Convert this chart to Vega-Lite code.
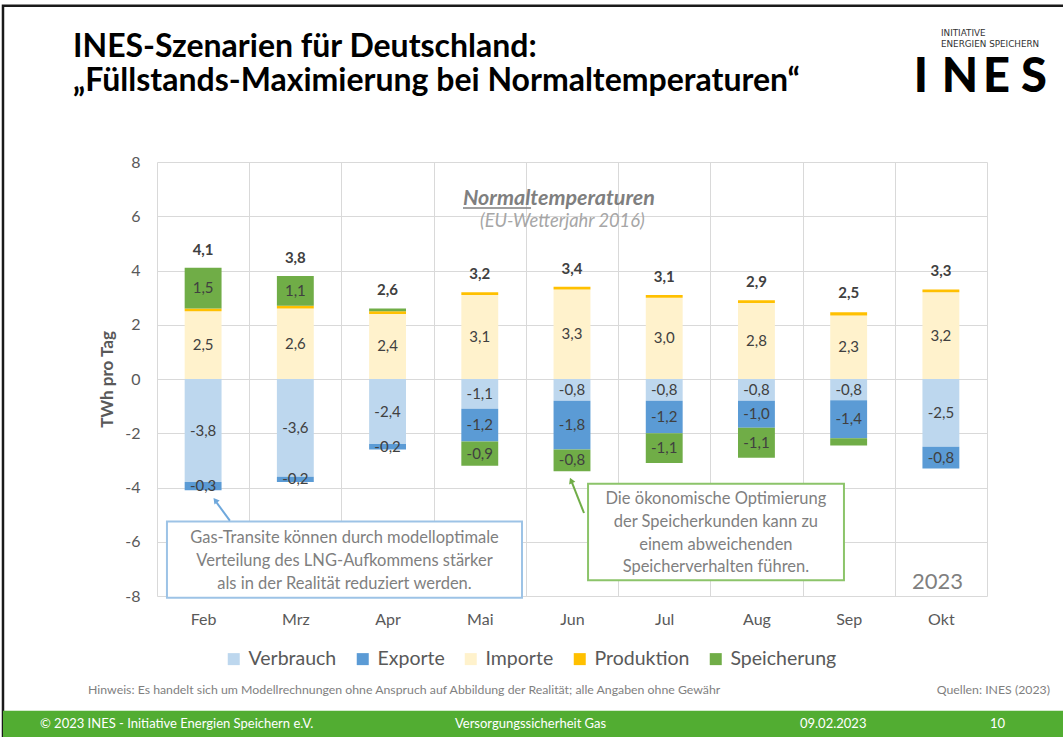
{
  "$schema": "https://vega.github.io/schema/vega-lite/v6.json",
  "width": 830,
  "height": 434,
  "autosize": {"type": "none"},
  "padding": {"left": 157, "top": 162, "right": 76, "bottom": 141},
  "background": "white",
  "config": {
    "locale": {"number": {"decimal": ",", "thousands": ".", "grouping": [3], "currency": ["", " €"], "minus": "-"}},
    "view": {"stroke": null},
    "font": "Lato"
  },
  "datasets": {
    "flows": [
      {"month": "Feb", "cat": "Verbrauch", "v": -3.8},
      {"month": "Feb", "cat": "Exporte", "v": -0.3},
      {"month": "Feb", "cat": "Importe", "v": 2.5},
      {"month": "Feb", "cat": "Produktion", "v": 0.1},
      {"month": "Feb", "cat": "Speicherung", "v": 1.5},
      {"month": "Mrz", "cat": "Verbrauch", "v": -3.6},
      {"month": "Mrz", "cat": "Exporte", "v": -0.2},
      {"month": "Mrz", "cat": "Importe", "v": 2.6},
      {"month": "Mrz", "cat": "Produktion", "v": 0.1},
      {"month": "Mrz", "cat": "Speicherung", "v": 1.1},
      {"month": "Apr", "cat": "Verbrauch", "v": -2.4},
      {"month": "Apr", "cat": "Exporte", "v": -0.2},
      {"month": "Apr", "cat": "Importe", "v": 2.4},
      {"month": "Apr", "cat": "Produktion", "v": 0.1},
      {"month": "Apr", "cat": "Speicherung", "v": 0.1},
      {"month": "Mai", "cat": "Verbrauch", "v": -1.1},
      {"month": "Mai", "cat": "Exporte", "v": -1.2},
      {"month": "Mai", "cat": "Importe", "v": 3.1},
      {"month": "Mai", "cat": "Produktion", "v": 0.1},
      {"month": "Mai", "cat": "Speicherung", "v": -0.9},
      {"month": "Jun", "cat": "Verbrauch", "v": -0.8},
      {"month": "Jun", "cat": "Exporte", "v": -1.8},
      {"month": "Jun", "cat": "Importe", "v": 3.3},
      {"month": "Jun", "cat": "Produktion", "v": 0.1},
      {"month": "Jun", "cat": "Speicherung", "v": -0.8},
      {"month": "Jul", "cat": "Verbrauch", "v": -0.8},
      {"month": "Jul", "cat": "Exporte", "v": -1.2},
      {"month": "Jul", "cat": "Importe", "v": 3.0},
      {"month": "Jul", "cat": "Produktion", "v": 0.1},
      {"month": "Jul", "cat": "Speicherung", "v": -1.1},
      {"month": "Aug", "cat": "Verbrauch", "v": -0.8},
      {"month": "Aug", "cat": "Exporte", "v": -1.0},
      {"month": "Aug", "cat": "Importe", "v": 2.8},
      {"month": "Aug", "cat": "Produktion", "v": 0.1},
      {"month": "Aug", "cat": "Speicherung", "v": -1.1},
      {"month": "Sep", "cat": "Verbrauch", "v": -0.78},
      {"month": "Sep", "cat": "Exporte", "v": -1.4},
      {"month": "Sep", "cat": "Importe", "v": 2.34},
      {"month": "Sep", "cat": "Produktion", "v": 0.12},
      {"month": "Sep", "cat": "Speicherung", "v": -0.27},
      {"month": "Okt", "cat": "Verbrauch", "v": -2.5},
      {"month": "Okt", "cat": "Exporte", "v": -0.8},
      {"month": "Okt", "cat": "Importe", "v": 3.2},
      {"month": "Okt", "cat": "Produktion", "v": 0.1}
    ],
    "totals": [
      {"month": "Feb", "total": 4.1},
      {"month": "Mrz", "total": 3.8},
      {"month": "Apr", "total": 2.6},
      {"month": "Mai", "total": 3.2},
      {"month": "Jun", "total": 3.4},
      {"month": "Jul", "total": 3.1},
      {"month": "Aug", "total": 2.9},
      {"month": "Sep", "total": 2.5},
      {"month": "Okt", "total": 3.3}
    ]
  },
  "resolve": {"scale": {"x": "independent"}},
  "layer": [
    {
      "data": {"values": [{}]},
      "encoding": {
        "x": {"type": "quantitative", "scale": {"domain": [0, 9], "nice": false, "zero": false}, "axis": null}
      },
      "layer": [
        {
          "mark": {"type": "rect", "fill": null, "fillOpacity": 0, "stroke": "#1a1a1a", "strokeWidth": 2.5, "clip": false},
          "encoding": {
            "x": {"datum": -1.67, "type": "quantitative"},
            "x2": {"datum": 9.95},
            "y": {"datum": 13.76, "type": "quantitative"},
            "y2": {"datum": -13.4}
          }
        },
        {
          "mark": {"type": "text", "text": "INES-Szenarien für Deutschland:", "font": "Lato", "fontSize": 32, "fontWeight": "bold", "color": "#000000", "align": "left", "baseline": "alphabetic", "clip": false},
          "encoding": {"x": {"datum": -0.911, "type": "quantitative"}, "y": {"datum": 11.87, "type": "quantitative"}}
        },
        {
          "mark": {"type": "text", "text": "„Füllstands-Maximierung bei Normaltemperaturen“", "font": "Lato", "fontSize": 32, "fontWeight": "bold", "color": "#000000", "align": "left", "baseline": "alphabetic", "clip": false},
          "encoding": {"x": {"datum": -0.911, "type": "quantitative"}, "y": {"datum": 10.6, "type": "quantitative"}}
        }
      ]
    },
    {
      "layer": [
        {
          "data": {"name": "flows"},
          "transform": [
            {"calculate": "indexof(['Verbrauch','Exporte','Importe','Produktion','Speicherung'], datum.cat)", "as": "ord"},
            {"stack": "v", "groupby": ["month"], "sort": [{"field": "ord", "order": "ascending"}], "as": ["y0", "y1"]},
            {"calculate": "(datum.y0 + datum.y1) / 2", "as": "mid"}
          ],
          "layer": [
            {
              "mark": {"type": "bar", "width": {"band": 0.4}},
              "encoding": {
                "x": {
                  "field": "month", "type": "nominal",
                  "sort": ["Feb", "Mrz", "Apr", "Mai", "Jun", "Jul", "Aug", "Sep", "Okt"],
                  "scale": {"paddingInner": 0, "paddingOuter": 0},
                  "axis": {
                    "title": null, "tickBand": "extent", "grid": true, "gridColor": "#D9D9D9", "gridWidth": 1,
                    "ticks": false, "domain": false, "labelAngle": 0, "labelFont": "Lato", "labelFontSize": 16,
                    "labelColor": "#595959", "labelPadding": 15
                  }
                },
                "y": {
                  "field": "y0", "type": "quantitative",
                  "scale": {"domain": [-8, 8], "nice": false, "zero": false},
                  "axis": {
                    "title": "TWh pro Tag", "titleFont": "Lato", "titleFontSize": 17, "titleFontWeight": "bold",
                    "titleColor": "#595959", "titlePadding": 8,
                    "values": [-8, -7, -6, -5, -4, -3, -2, -1, 0, 1, 2, 3, 4, 5, 6, 7, 8],
                    "labelExpr": "datum.value % 2 === 0 ? datum.label : ''",
                    "grid": true, "gridColor": "#D9D9D9", "gridWidth": 1, "ticks": false, "domain": false,
                    "labelFont": "Lato", "labelFontSize": 16, "labelColor": "#595959", "labelPadding": 17
                  }
                },
                "y2": {"field": "y1"},
                "color": {
                  "field": "cat", "type": "nominal",
                  "scale": {
                    "domain": ["Verbrauch", "Exporte", "Importe", "Produktion", "Speicherung"],
                    "range": ["#BDD7EE", "#5B9BD5", "#FFF2CC", "#FFC000", "#70AD47"]
                  },
                  "legend": {
                    "title": null, "orient": "none", "direction": "horizontal", "legendX": 67, "legendY": 487,
                    "padding": 0, "symbolType": "square", "symbolSize": 144, "symbolStrokeWidth": 0,
                    "labelFont": "Lato", "labelFontSize": 19.5, "labelColor": "#595959", "labelOffset": 5,
                    "columnPadding": 16
                  }
                }
              }
            },
            {
              "transform": [
                {"filter": "datum.cat != 'Produktion' && abs(datum.v) >= 0.15 && !(datum.month == 'Sep' && datum.cat == 'Speicherung')"}
              ],
              "mark": {"type": "text", "font": "Lato", "fontSize": 15, "color": "#404040", "baseline": "middle"},
              "encoding": {
                "x": {"field": "month", "type": "nominal", "sort": ["Feb", "Mrz", "Apr", "Mai", "Jun", "Jul", "Aug", "Sep", "Okt"]},
                "y": {"field": "mid", "type": "quantitative"},
                "text": {"field": "v", "type": "quantitative", "format": ".1f"}
              }
            }
          ]
        },
        {
          "data": {"name": "totals"},
          "mark": {"type": "text", "font": "Lato", "fontSize": 15, "fontWeight": "bold", "color": "#404040", "baseline": "alphabetic", "dy": -13},
          "encoding": {
            "x": {"field": "month", "type": "nominal", "sort": ["Feb", "Mrz", "Apr", "Mai", "Jun", "Jul", "Aug", "Sep", "Okt"]},
            "y": {"field": "total", "type": "quantitative"},
            "text": {"field": "total", "type": "quantitative", "format": ".1f"}
          }
        }
      ]
    },
    {
      "data": {"values": [{}]},
      "encoding": {
        "x": {"type": "quantitative", "scale": {"domain": [0, 9], "nice": false, "zero": false}, "axis": null}
      },
      "layer": [
        {
          "mark": {"type": "rect", "color": "#52AD32", "clip": false},
          "encoding": {
            "x": {"datum": -1.67, "type": "quantitative"},
            "x2": {"datum": 9.95},
            "y": {"datum": -12.23, "type": "quantitative"},
            "y2": {"datum": -13.4}
          }
        },
        {
          "mark": {"type": "text", "text": "© 2023 INES - Initiative Energien Speichern e.V.", "font": "Lato", "fontSize": 13, "color": "white", "align": "left", "baseline": "middle", "clip": false},
          "encoding": {"x": {"datum": -1.269, "type": "quantitative"}, "y": {"datum": -12.71, "type": "quantitative"}}
        },
        {
          "mark": {"type": "text", "text": "Versorgungssicherheit Gas", "font": "Lato", "fontSize": 13, "color": "white", "align": "left", "baseline": "middle", "clip": false},
          "encoding": {"x": {"datum": 3.231, "type": "quantitative"}, "y": {"datum": -12.71, "type": "quantitative"}}
        },
        {
          "mark": {"type": "text", "text": "09.02.2023", "font": "Lato", "fontSize": 13, "color": "white", "align": "left", "baseline": "middle", "clip": false},
          "encoding": {"x": {"datum": 6.972, "type": "quantitative"}, "y": {"datum": -12.71, "type": "quantitative"}}
        },
        {
          "mark": {"type": "text", "text": "10", "font": "Lato", "fontSize": 13, "color": "white", "align": "left", "baseline": "middle", "clip": false},
          "encoding": {"x": {"datum": 9.033, "type": "quantitative"}, "y": {"datum": -12.71, "type": "quantitative"}}
        },
        {
          "mark": {"type": "text", "text": "Hinweis: Es handelt sich um Modellrechnungen ohne Anspruch auf Abbildung der Realität; alle Angaben ohne Gewähr", "font": "Lato", "fontSize": 12.3, "color": "#7F7F7F", "align": "left", "baseline": "middle", "clip": false},
          "encoding": {"x": {"datum": -0.748, "type": "quantitative"}, "y": {"datum": -11.45, "type": "quantitative"}}
        },
        {
          "mark": {"type": "text", "text": "Quellen: INES (2023)", "font": "Lato", "fontSize": 12.3, "color": "#7F7F7F", "align": "right", "baseline": "middle", "clip": false},
          "encoding": {"x": {"datum": 9.683, "type": "quantitative"}, "y": {"datum": -11.45, "type": "quantitative"}}
        },
        {
          "mark": {"type": "text", "text": "INITIATIVE", "font": "DejaVu Sans", "fontSize": 8.8, "color": "#333333", "align": "left", "baseline": "alphabetic", "clip": false},
          "encoding": {"x": {"datum": 8.501, "type": "quantitative"}, "y": {"datum": 12.66, "type": "quantitative"}}
        },
        {
          "mark": {"type": "text", "text": "ENERGIEN SPEICHERN", "font": "DejaVu Sans", "fontSize": 8.8, "color": "#333333", "align": "left", "baseline": "alphabetic", "clip": false},
          "encoding": {"x": {"datum": 8.501, "type": "quantitative"}, "y": {"datum": 12.23, "type": "quantitative"}}
        },
        {
          "mark": {"type": "text", "text": "I", "font": "Lato", "fontSize": 47, "fontWeight": 900, "color": "#000000", "align": "center", "baseline": "alphabetic", "clip": false},
          "encoding": {"x": {"datum": 8.284, "type": "quantitative"}, "y": {"datum": 10.59, "type": "quantitative"}}
        },
        {
          "mark": {"type": "text", "text": "N", "font": "Lato", "fontSize": 47, "fontWeight": 900, "color": "#000000", "align": "center", "baseline": "alphabetic", "clip": false},
          "encoding": {"x": {"datum": 8.707, "type": "quantitative"}, "y": {"datum": 10.59, "type": "quantitative"}}
        },
        {
          "mark": {"type": "text", "text": "E", "font": "Lato", "fontSize": 47, "fontWeight": 900, "color": "#000000", "align": "center", "baseline": "alphabetic", "clip": false},
          "encoding": {"x": {"datum": 9.103, "type": "quantitative"}, "y": {"datum": 10.59, "type": "quantitative"}}
        },
        {
          "mark": {"type": "text", "text": "S", "font": "Lato", "fontSize": 47, "fontWeight": 900, "color": "#000000", "align": "center", "baseline": "alphabetic", "clip": false},
          "encoding": {"x": {"datum": 9.51, "type": "quantitative"}, "y": {"datum": 10.59, "type": "quantitative"}}
        },
        {
          "mark": {"type": "text", "text": "Normaltemperaturen", "font": "Lato", "fontSize": 21.5, "fontWeight": "bold", "fontStyle": "italic", "color": "#7F7F7F", "align": "left", "baseline": "alphabetic"},
          "encoding": {"x": {"datum": 3.318, "type": "quantitative"}, "y": {"datum": 6.42, "type": "quantitative"}}
        },
        {
          "mark": {"type": "rule", "color": "#7F7F7F", "strokeWidth": 1.5},
          "encoding": {"x": {"datum": 3.318, "type": "quantitative"}, "x2": {"datum": 4.056}, "y": {"datum": 6.3, "type": "quantitative"}}
        },
        {
          "mark": {"type": "text", "text": "(EU-Wetterjahr 2016)", "font": "Lato", "fontSize": 18.3, "fontStyle": "italic", "color": "#A6A6A6", "align": "left", "baseline": "alphabetic"},
          "encoding": {"x": {"datum": 3.502, "type": "quantitative"}, "y": {"datum": 5.62, "type": "quantitative"}}
        },
        {
          "mark": {"type": "text", "text": "2023", "font": "Lato", "fontSize": 22, "color": "#7F7F7F", "align": "right", "baseline": "alphabetic"},
          "encoding": {"x": {"datum": 8.74, "type": "quantitative"}, "y": {"datum": -7.73, "type": "quantitative"}}
        },
        {
          "mark": {"type": "rect", "fill": "white", "stroke": "#9DC3E6", "strokeWidth": 2, "clip": false},
          "encoding": {"x": {"datum": 0.108, "type": "quantitative"}, "x2": {"datum": 3.958}, "y": {"datum": -5.25, "type": "quantitative"}, "y2": {"datum": -8.06}}
        },
        {
          "mark": {"type": "text", "text": ["Gas-Transite können durch modelloptimale", "Verteilung des LNG-Aufkommens stärker", "als in der Realität reduziert werden."], "font": "Lato", "fontSize": 16.5, "color": "#7F7F7F", "align": "center", "baseline": "middle", "lineHeight": 23, "clip": false},
          "encoding": {"x": {"datum": 2.033, "type": "quantitative"}, "y": {"datum": -5.862, "type": "quantitative"}}
        },
        {
          "mark": {"type": "rule", "color": "#6FA8DC", "strokeWidth": 2},
          "encoding": {"x": {"datum": 0.79, "type": "quantitative"}, "x2": {"datum": 0.645}, "y": {"datum": -5.22, "type": "quantitative"}, "y2": {"datum": -4.55}}
        },
        {
          "mark": {"type": "point", "shape": "triangle-up", "filled": true, "color": "#6FA8DC", "opacity": 1, "size": 45, "angle": 322},
          "encoding": {"x": {"datum": 0.632, "type": "quantitative"}, "y": {"datum": -4.47, "type": "quantitative"}}
        },
        {
          "mark": {"type": "rect", "fill": "white", "stroke": "#8CC46A", "strokeWidth": 2, "clip": false},
          "encoding": {"x": {"datum": 4.674, "type": "quantitative"}, "x2": {"datum": 7.449}, "y": {"datum": -3.86, "type": "quantitative"}, "y2": {"datum": -7.42}}
        },
        {
          "mark": {"type": "text", "text": ["Die ökonomische Optimierung", "der Speicherkunden  kann zu", "einem abweichenden", "Speicherverhalten führen."], "font": "Lato", "fontSize": 16.5, "color": "#7F7F7F", "align": "center", "baseline": "middle", "lineHeight": 22.8, "clip": false},
          "encoding": {"x": {"datum": 6.06, "type": "quantitative"}, "y": {"datum": -4.424, "type": "quantitative"}}
        },
        {
          "mark": {"type": "rule", "color": "#70AD47", "strokeWidth": 2},
          "encoding": {"x": {"datum": 4.63, "type": "quantitative"}, "x2": {"datum": 4.5}, "y": {"datum": -4.94, "type": "quantitative"}, "y2": {"datum": -3.82}}
        },
        {
          "mark": {"type": "point", "shape": "triangle-up", "filled": true, "color": "#70AD47", "opacity": 1, "size": 45, "angle": 337},
          "encoding": {"x": {"datum": 4.49, "type": "quantitative"}, "y": {"datum": -3.74, "type": "quantitative"}}
        }
      ]
    }
  ]
}
